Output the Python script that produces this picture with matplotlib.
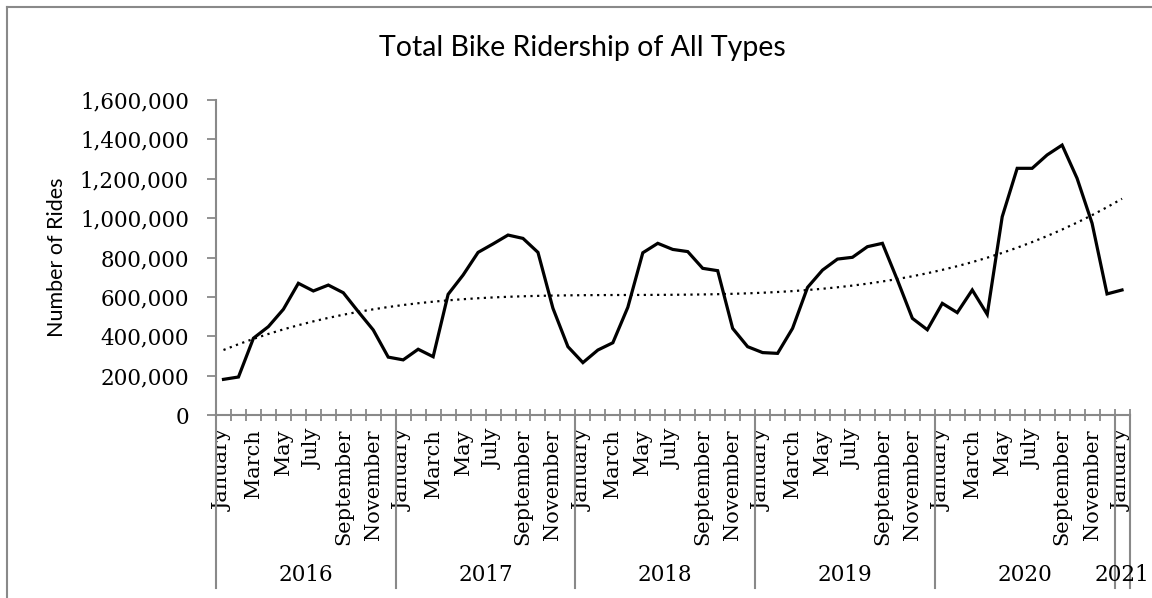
import matplotlib
matplotlib.use("Agg")
import matplotlib.pyplot as plt
import matplotlib.transforms as mtransforms
from matplotlib.ticker import FuncFormatter
import numpy as np

# ---- data ----
years = ["2016", "2017", "2018", "2019", "2020", "2021"]
months_per_year = [12, 12, 12, 12, 12, 1]
month_names = ["January", "February", "March", "April", "May", "June", "July",
               "August", "September", "October", "November", "December"]
rides = [181000, 193000, 390000, 449000, 537000, 669000, 630000, 660000, 621000, 525000, 432000, 294000,
         280000, 334000, 296000, 613000, 711000, 826000, 869000, 914000, 897000, 826000, 542000, 347000,
         266000, 330000, 367000, 547000, 824000, 872000, 841000, 830000, 745000, 733000, 440000, 347000,
         317000, 313000, 440000, 648000, 736000, 792000, 801000, 855000, 872000, 686000, 491000, 433000,
         567000, 520000, 635000, 511000, 1007000, 1253000, 1253000, 1321000, 1371000, 1202000, 974000, 615000,
         635000]
yticks = list(range(0, 1600001, 200000))

W, H = 1152, 598
fig = plt.figure(figsize=(W / 100, H / 100), dpi=100)
GRAY = "#898989"

# axes position in pixels
L, R, B, T = 216, 1129.5, 415, 100
ax = fig.add_axes([L / W, (H - B) / H, (R - L) / W, (B - T) / H])

n = len(rides)
x = np.arange(n)
ax.plot(x, rides, color="black", lw=2.3, solid_joinstyle="miter", zorder=3)

# polynomial trendline (order 3) computed from the data
coef = np.polyfit(x + 1, rides, 3)
trend = np.polyval(coef, x + 1)
ax.plot(x, trend, color="black", lw=1.6, linestyle=(0, (1, 2)), zorder=2)

ax.set_xlim(-0.5, n - 0.5)
ax.set_ylim(0, 1600000)
ax.set_yticks(yticks)
ax.yaxis.set_major_formatter(FuncFormatter(lambda v, p: f"{int(v):,}"))

for s in ["top", "right"]:
    ax.spines[s].set_visible(False)
for s in ["left", "bottom"]:
    ax.spines[s].set_color(GRAY)
    ax.spines[s].set_linewidth(1.5)

serif = "DejaVu Serif"
ax.tick_params(axis="y", direction="out", length=6.5, width=1.3, color=GRAY,
               labelsize=15.5, pad=13)
for lab in ax.get_yticklabels():
    lab.set_fontfamily(serif)

# month labels (every other month)
labels = []
for cnt in months_per_year:
    labels += month_names[:cnt]
major_pos = list(range(0, n, 2))
ax.set_xticks(major_pos)
ax.set_xticklabels([labels[i] for i in major_pos], rotation=90, fontfamily=serif, fontsize=15)
ax.tick_params(axis="x", which="major", length=0, pad=10)
ax.set_xticks(np.arange(-0.5, n, 1.0), minor=True)
ax.tick_params(axis="x", which="minor", direction="inout", length=8, width=1.3, color=GRAY)

# year group separators and labels
trans = mtransforms.blended_transform_factory(ax.transData, ax.transAxes)
ybot = -(588 - B) / (B - T)
bounds = np.concatenate([[0], np.cumsum(months_per_year)]) - 0.5
for b in bounds:
    ax.plot([b, b], [0, ybot], transform=trans, color=GRAY, lw=1.5, clip_on=False)
ylab = -(575 - B) / (B - T)
for i, yr in enumerate(years):
    cx = (bounds[i] + bounds[i + 1]) / 2
    ax.text(cx, ylab, yr, transform=trans, ha="center", va="center",
            fontfamily=serif, fontsize=15.5)

ax.set_ylabel("Number of Rides", fontfamily="Lato", fontsize=15.5)
ax.yaxis.set_label_coords((67 - L) / (R - L), (B - 257) / (B - T))

fig.text(582 / W, 1 - 48 / H, "Total Bike Ridership of All Types", ha="center", va="center",
         fontfamily="Lato", fontsize=20.5)

# chart area border (left and top visible)
fig.add_artist(plt.Line2D([6.5 / W, 6.5 / W], [0, 1 - 7 / H], color=GRAY, lw=1.5,
                          transform=fig.transFigure))
fig.add_artist(plt.Line2D([6.5 / W, 1], [1 - 7 / H, 1 - 7 / H], color=GRAY, lw=1.5,
                          transform=fig.transFigure))

fig.savefig("out.png", dpi=100)
